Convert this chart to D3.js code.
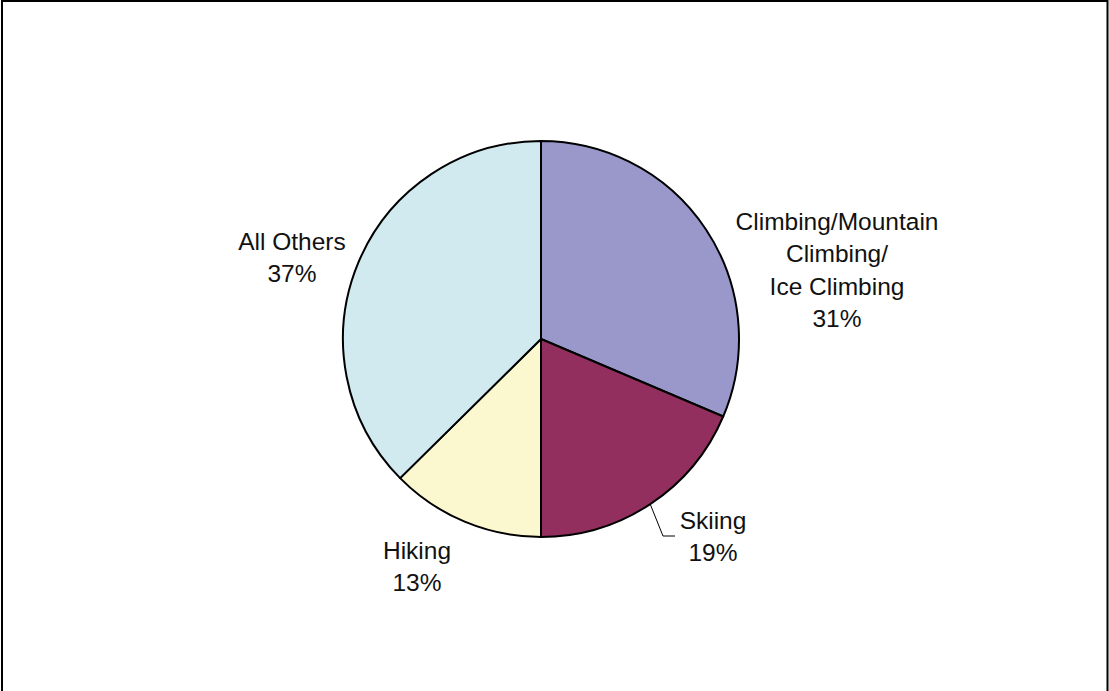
<!DOCTYPE html>
<html><head><meta charset="utf-8">
<script src="https://cdn.jsdelivr.net/npm/d3@7"></script>
<style>body{margin:0;background:#fff}svg{display:block}</style>
</head><body>
<svg id="c" width="1109" height="691"></svg>
<script>
const categories = ["Climbing/Mountain Climbing/ Ice Climbing", "Skiing", "Hiking", "All Others"];
const labelLines = [["Climbing/Mountain","Climbing/","Ice Climbing"],["Skiing"],["Hiking"],["All Others"]];
const values = [31.4, 18.6, 12.6, 37.4];
const displayPct = ["31%","19%","13%","37%"];
const colors = ["#9a97cb","#922f5e","#fbf8d0","#d0eaf0"];

const svg = d3.select("#c");
// frame
svg.append("path").attr("d", `M2,691 V1 H1107.5 V691`).attr("fill","none").attr("stroke","#000").attr("stroke-width",2);

const cx = 541, cy = 339, r = 198;
const pie = d3.pie().sort(null).value(d=>d)(values);
const arc = d3.arc().innerRadius(0).outerRadius(r);
const g = svg.append("g").attr("transform",`translate(${cx},${cy})`);
g.selectAll("path").data(pie).join("path")
  .attr("d", arc).attr("fill",(d,i)=>colors[i])
  .attr("stroke","#000").attr("stroke-width",2).attr("stroke-linejoin","round");

// label positions (centers of text blocks)
const labelPos = [[837, 221],[713, 520],[417, 550],[292, 241]];
const lh = 32.5;
labelPos.forEach((p,i)=>{
  const lines = labelLines[i].concat([displayPct[i]]);
  const t = svg.append("text").attr("text-anchor","middle")
    .attr("font-family","Liberation Sans, Arial, sans-serif").attr("font-size",24.5).attr("fill","#111");
  lines.forEach((s,k)=>{
    t.append("tspan").attr("x",p[0]).attr("y",p[1]+k*lh).attr("dy","0.35em").text(s);
  });
});

// leader line for Skiing
const a = (pie[1].startAngle + pie[1].endAngle)/2;
const x0 = cx + r*Math.sin(a), y0 = cy - r*Math.cos(a);
svg.append("polyline")
  .attr("points", `${x0},${y0} 663,536 675,536`)
  .attr("fill","none").attr("stroke","#000").attr("stroke-width",1);
</script>
</body></html>
